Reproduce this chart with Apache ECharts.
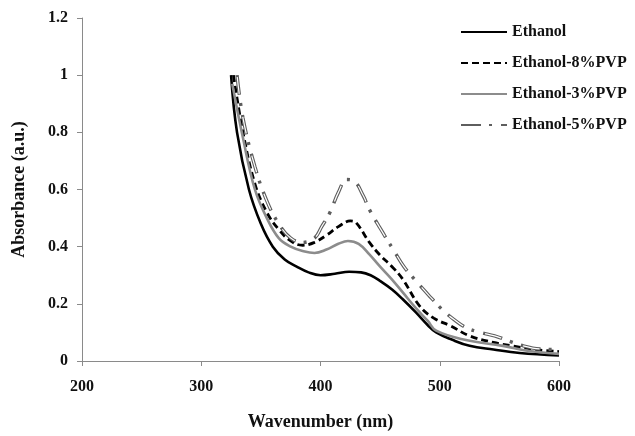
<!DOCTYPE html>
<html>
<head>
<meta charset="utf-8">
<script src="https://cdn.jsdelivr.net/npm/echarts@6/dist/echarts.min.js"></script>
<style>
  html, body { margin: 0; padding: 0; background: #fff; }
  #chart { width: 635px; height: 436px; }
</style>
</head>
<body>
<div id="chart"></div>
<script>
// wavelength (nm) / absorbance pairs
var ethanol = [
  [325, 1.0], [330, 0.8], [340, 0.6], [350, 0.48], [360, 0.4], [370, 0.355],
  [380, 0.33], [390, 0.31], [400, 0.3], [412, 0.305], [424, 0.312], [434, 0.31],
  [442, 0.3], [450, 0.28], [460, 0.25], [469, 0.216], [480, 0.17], [490, 0.125],
  [497, 0.1], [510, 0.075], [525, 0.053], [545, 0.04], [567, 0.028], [600, 0.019]
];
var ethanol8 = [
  [327, 1.0], [335, 0.8], [345, 0.62], [355, 0.52], [365, 0.46], [375, 0.42],
  [385, 0.405], [395, 0.415], [405, 0.44], [415, 0.47], [425, 0.49], [430, 0.483],
  [441, 0.415], [450, 0.37], [460, 0.33], [469, 0.286], [483, 0.193], [495, 0.15],
  [509, 0.123], [525, 0.088], [545, 0.065], [561, 0.053], [580, 0.04], [600, 0.033]
];
var ethanol3 = [
  [326, 0.97], [335, 0.78], [345, 0.6], [355, 0.5], [365, 0.43], [375, 0.4],
  [385, 0.385], [395, 0.378], [405, 0.39], [415, 0.41], [423, 0.42], [432, 0.41],
  [441, 0.373], [450, 0.33], [460, 0.285], [469, 0.24], [480, 0.185], [490, 0.14],
  [497, 0.106], [520, 0.075], [553, 0.053], [575, 0.035], [600, 0.025]
];
var ethanol5 = [
  [330, 1.0], [335, 0.85], [345, 0.68], [355, 0.56], [365, 0.48], [375, 0.43],
  [385, 0.415], [395, 0.43], [401, 0.47], [408, 0.52], [415, 0.59], [422, 0.635],
  [428, 0.63], [436, 0.577], [441, 0.53], [454, 0.437], [461, 0.39], [470, 0.33],
  [480, 0.28], [493, 0.22], [502, 0.18], [512, 0.145], [522, 0.117], [534, 0.1],
  [546, 0.088], [558, 0.07], [570, 0.053], [584, 0.042], [600, 0.04]
];
var seriesNames = ['Ethanol', 'Ethanol-8%PVP', 'Ethanol-3%PVP', 'Ethanol-5%PVP'];

var font = 'Liberation Serif';
var axisColor = '#8a8a8a';
var labelStyle = { fontFamily: font, fontWeight: 'bold', fontSize: 16, color: '#111' };
var titleStyle = { fontFamily: font, fontWeight: 'bold', fontSize: 18, color: '#111' };

function lineSeries(name, data, color, type, width) {
  return {
    name: name, type: 'line', data: data, smooth: 0.4,
    showSymbol: false, symbol: 'none',
    lineStyle: { color: color, width: width, type: type },
    itemStyle: { color: color }
  };
}

// the 5% curve is drawn hollow: a thick grey dash with a white core
var hollowCore = lineSeries('core', ethanol5, '#fff', [17, 23], 1.2);
hollowCore.lineStyle.dashOffset = 38;
hollowCore.silent = true;

var myChart = echarts.init(document.getElementById('chart'));
var option = {
  animation: false,
  grid: { left: 82, right: 76, top: 18, bottom: 74 },
  legend: {
    orient: 'vertical',
    left: 455,
    top: 19,
    itemWidth: 46,
    itemHeight: 14,
    itemGap: 15,
    itemStyle: { opacity: 0, borderWidth: 0 },
    textStyle: { fontFamily: font, fontWeight: 'bold', fontSize: 16, color: '#111' },
    data: seriesNames
  },
  xAxis: {
    type: 'value',
    min: 200, max: 600, interval: 100,
    name: 'Wavenumber (nm)',
    nameLocation: 'middle',
    nameGap: 52,
    nameTextStyle: titleStyle,
    axisLine: { lineStyle: { color: axisColor } },
    axisTick: { lineStyle: { color: axisColor }, length: 5 },
    axisLabel: Object.assign({ margin: 18 }, labelStyle),
    splitLine: { show: false }
  },
  yAxis: {
    type: 'value',
    min: 0, max: 1.2, interval: 0.2,
    name: 'Absorbance (a.u.)',
    nameLocation: 'middle',
    nameGap: 54,
    nameTextStyle: titleStyle,
    axisLine: { show: true, lineStyle: { color: axisColor } },
    axisTick: { show: true, lineStyle: { color: axisColor }, length: 5 },
    axisLabel: Object.assign({ margin: 14 }, labelStyle),
    splitLine: { show: false }
  },
  series: [
    lineSeries(seriesNames[0], ethanol, '#000', 'solid', 2.6),
    lineSeries(seriesNames[1], ethanol8, '#000', [7, 4], 2.8),
    lineSeries(seriesNames[2], ethanol3, '#8c8c8c', 'solid', 2.6),
    lineSeries(seriesNames[3], ethanol5, '#5e5e5e', [20, 8, 3, 9], 3.4),
    hollowCore
  ]
};
myChart.setOption(option);
</script>
</body>
</html>
